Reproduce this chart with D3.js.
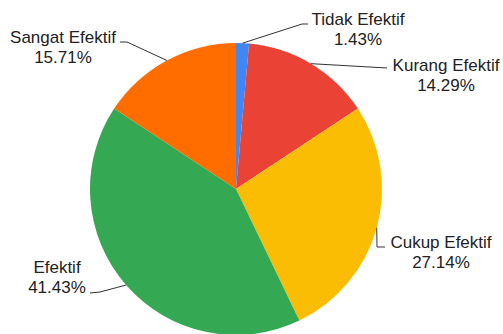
<!DOCTYPE html>
<html lang="id">
<head>
<meta charset="UTF-8">
<title>Pie Chart</title>
<style>
  body { margin: 0; background: #fff; }
  .label text { font: 17px "Liberation Sans", Arial, sans-serif; fill: #222; }
  .leader { fill: none; stroke: #333; stroke-width: 1; }
</style>
</head>
<body>
<script src="https://d3js.org/d3.v7.min.js"></script>
<script>
// data
var categories = ["Tidak Efektif", "Kurang Efektif", "Cukup Efektif", "Efektif", "Sangat Efektif"];
var counts = [1, 10, 19, 29, 11];
var percentLabels = ["1.43%", "14.29%", "27.14%", "41.43%", "15.71%"];
var colors = ["#4285f4", "#ea4335", "#fbbc04", "#34a853", "#ff6d01"];

// label layout: text centre x, first baseline y, elbow point, line end
var labelLayout = [
  { tx: 358, ty: 25, ex: 302, ey: 24, lx: 308, ly: 24 },
  { tx: 446, ty: 71, ex: 387, ey: 68, lx: 387, ly: 68 },
  { tx: 441, ty: 248, ex: 377, ey: 247, lx: 385, ly: 247 },
  { tx: 57, ty: 273, ex: 100, ey: 292, lx: 90, ly: 293 },
  { tx: 63, ty: 43, ex: 127, ey: 42, lx: 120, ly: 42 }
];

var width = 503, height = 334;
var cx = 236, cy = 189, radius = 146;

var svg = d3.select("body").append("svg")
  .attr("width", width)
  .attr("height", height);

var g = svg.append("g")
  .attr("transform", "translate(" + cx + "," + cy + ")");

var pie = d3.pie().sort(null).value(function(d) { return d; });
var arc = d3.arc().innerRadius(0).outerRadius(radius);
var arcs = pie(counts);

g.selectAll("path.slice")
  .data(arcs)
  .enter().append("path")
  .attr("class", "slice")
  .attr("d", arc)
  .attr("fill", function(d, i) { return colors[i]; });

// leader lines from slice edge midpoints
var labels = svg.selectAll("g.label")
  .data(arcs)
  .enter().append("g")
  .attr("class", "label");

labels.append("polyline")
  .attr("class", "leader")
  .attr("points", function(d, i) {
    var a = (d.startAngle + d.endAngle) / 2;
    var px = cx + radius * Math.sin(a), py = cy - radius * Math.cos(a);
    var L = labelLayout[i];
    return [[px, py], [L.ex, L.ey], [L.lx, L.ly]].join(" ");
  });

var txt = labels.append("text")
  .attr("text-anchor", "middle")
  .attr("x", function(d, i) { return labelLayout[i].tx; })
  .attr("y", function(d, i) { return labelLayout[i].ty; });

txt.append("tspan")
  .attr("x", function(d, i) { return labelLayout[i].tx; })
  .text(function(d, i) { return categories[i]; });

txt.append("tspan")
  .attr("x", function(d, i) { return labelLayout[i].tx; })
  .attr("dy", 20)
  .text(function(d, i) { return percentLabels[i]; });
</script>
</body>
</html>
